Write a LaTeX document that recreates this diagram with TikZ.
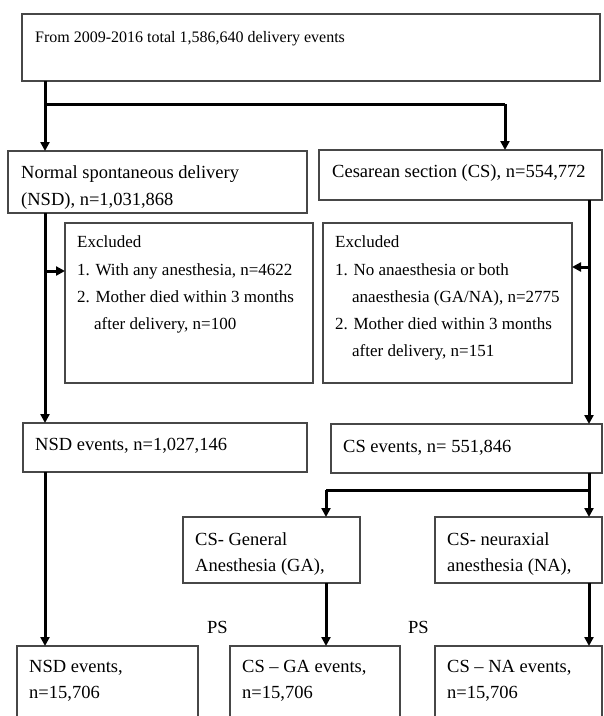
\documentclass[tikz,border=0pt]{standalone}
\usepackage{fontspec}
\setmainfont{Liberation Serif}
\usetikzlibrary{arrows.meta}
\begin{document}
\begin{tikzpicture}[x=1pt,y=-1pt,
  box/.style={draw=black!72, line width=1.1pt, anchor=north west, inner sep=0pt, outer sep=0pt},
  txt/.style={anchor=base west, inner sep=0pt, font=\fontsize{18.5}{22}\selectfont},
  txts/.style={txt, font=\fontsize{17}{20}\selectfont},
  txtt/.style={txt, font=\fontsize{16}{19}\selectfont},
  conn/.style={line width=3pt},
  arr/.style={conn, -{Triangle[length=9pt,width=9pt]}}]
\useasboundingbox (0,0) rectangle (604,716);
\clip (0,0) rectangle (604,716);
% boxes
\node[box, minimum width=578pt, minimum height=67pt] (top) at (22,14) {};
\node[box, minimum width=299pt, minimum height=62pt] (nsd) at (8,151) {};
\node[box, minimum width=283pt, minimum height=50pt] (cs) at (319,150) {};
\node[box, minimum width=248pt, minimum height=160pt] (exl) at (65,223) {};
\node[box, minimum width=249pt, minimum height=160pt] (exr) at (323,223) {};
\node[box, minimum width=284pt, minimum height=49pt] (nsdev) at (23,423) {};
\node[box, minimum width=271pt, minimum height=49pt] (csev) at (331,424) {};
\node[box, minimum width=177pt, minimum height=66pt] (ga) at (183,517) {};
\node[box, minimum width=167pt, minimum height=66pt] (na) at (435,517) {};
\node[box, minimum width=181pt, minimum height=90pt] (nsdend) at (17,646) {};
\node[box, minimum width=170pt, minimum height=90pt] (gaend) at (230,646) {};
\node[box, minimum width=167pt, minimum height=90pt] (naend) at (435,646) {};
% texts
\node[txtt] (t0) at (35,42) {From 2009-2016 total 1,586,640 delivery events};
\node[txt] (t1a) at (21,178) {Normal spontaneous delivery};
\node[txt] (t1b) at (21,205) {(NSD), n=1,031,868};
\node[txt] (t2) at (332,177) {Cesarean section (CS), n=554,772};
\node[txts] (t3a) at (77,247) {Excluded};
\node[txts] (t3b) at (77,275) {1. With any anesthesia, n=4622};
\node[txts] (t3c) at (77,302) {2. Mother died within 3 months};
\node[txts] (t3d) at (77,329) {\hphantom{2.\ }after delivery, n=100};
\node[txts] (t4a) at (335,247) {Excluded};
\node[txts] (t4b) at (335,275) {1. No anaesthesia or both};
\node[txts] (t4c) at (335,302) {\hphantom{1.\ }anaesthesia (GA/NA), n=2775};
\node[txts] (t4d) at (335,329) {2. Mother died within 3 months};
\node[txts] (t4e) at (335,356) {\hphantom{2.\ }after delivery, n=151};
\node[txt] (t5) at (35,450) {NSD events, n=1,027,146};
\node[txt] (t6) at (343,452) {CS events, n= 551,846};
\node[txt] (t7a) at (195,545) {CS- General};
\node[txt] (t7b) at (195,571) {Anesthesia (GA),};
\node[txt] (t8a) at (447,545) {CS- neuraxial};
\node[txt] (t8b) at (447,571) {anesthesia (NA),};
\node[txt] (ps1) at (207,633) {PS};
\node[txt] (ps2) at (408,633) {PS};
\node[txt] (t9a) at (29,672) {NSD events,};
\node[txt] (t9b) at (29,698) {n=15,706};
\node[txt] (t10a) at (242,672) {CS – GA events,};
\node[txt] (t10b) at (242,698) {n=15,706};
\node[txt] (t11a) at (447,672) {CS – NA events,};
\node[txt] (t11b) at (447,698) {n=15,706};
% connectors
\coordinate (j1) at (45,104);
\coordinate (j2) at (505,104);
\draw[conn] (j1 |- top.south) -- (j1) -- (j2);
\draw[arr] (j1) -- (j1 |- nsd.north);
\draw[arr] (j2) -- (j2 |- cs.north);
\coordinate (b1) at (45,271);
\draw[arr] (j1 |- nsd.south) -- (j1 |- nsdev.north);
\draw[arr] (b1) -- (b1 -| exl.west);
\coordinate (r1) at (589,267);
\draw[arr] (r1 |- cs.south) -- (r1 |- csev.north);
\draw[arr] (r1) -- (r1 -| exr.east);
\coordinate (r2) at (589,490);
\coordinate (g2) at (326,490);
\draw[conn] (r2 |- csev.south) -- (r2) -- (g2);
\draw[arr] (g2) -- (g2 |- ga.north);
\draw[arr] (r2) -- (r2 |- na.north);
\draw[arr] (g2 |- ga.south) -- (g2 |- gaend.north);
\draw[arr] (r2 |- na.south) -- (r2 |- naend.north);
\draw[arr] (j1 |- nsdev.south) -- (j1 |- nsdend.north);
\end{tikzpicture}
\end{document}
